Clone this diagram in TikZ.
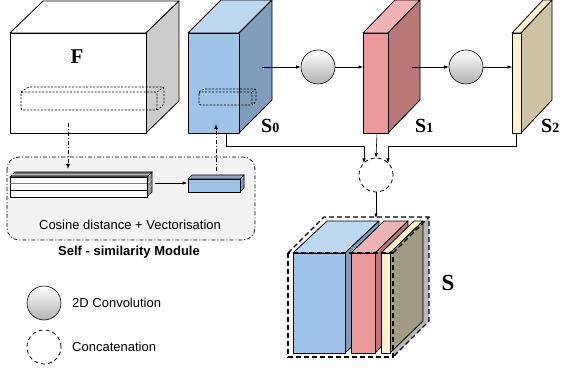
\documentclass[tikz,border=0pt]{standalone}
\usepackage{fontspec}
\setmainfont{Liberation Serif}
\setsansfont{Liberation Sans}
\usetikzlibrary{arrows.meta,shapes.geometric}
\definecolor{fside}{HTML}{CCCCCC}
\definecolor{bfront}{HTML}{9DC3E6}
\definecolor{btop}{HTML}{BDD7EE}
\definecolor{bside}{HTML}{7F9DBB}
\definecolor{pfront}{HTML}{E99999}
\definecolor{ptop}{HTML}{EEB4B4}
\definecolor{pside}{HTML}{B87878}
\definecolor{cfront}{HTML}{FFF2CC}
\definecolor{ctop}{HTML}{FFF2CC}
\definecolor{cside}{HTML}{CCC3A3}
\definecolor{cside2}{HTML}{A19B84}
\definecolor{modfill}{HTML}{F2F2F2}
\newcommand\cub[8]{%
  \draw[cubeline,fill=#7] #1 -- ++(#2,0) -- ++(#4,#5) -- ++(-#2,0) -- cycle;
  \draw[cubeline,fill=#8] #1 ++(#2,0) -- ++(#4,#5) -- ++(0,#3) -- ++(-#4,-#5) -- cycle;
  \draw[cubeline,fill=#6] #1 rectangle ++(#2,#3);}
\begin{document}
\begin{tikzpicture}[x=1pt,y=-1pt,
  cubeline/.style={line width=0.8pt,line join=round},
  conn/.style={line width=0.6pt,-{Latex[length=4.5pt,width=3.5pt]}},
  dconn/.style={line width=0.9pt,dash pattern=on 4pt off 2pt on 1pt off 2pt,-{Latex[length=5pt,width=4pt]}},
  convc/.style={circle,draw,line width=0.6pt,minimum size=34pt,inner sep=0pt,top color=white,bottom color=black!30},
  catc/.style={circle,draw,line width=0.8pt,dash pattern=on 4pt off 3pt,minimum size=34pt,inner sep=0pt},
  rod/.style={line width=0.7pt,dash pattern=on 2pt off 1.5pt,rounded corners=2pt},
  lbl/.style={font=\fontsize{20}{20}\selectfont\bfseries,inner sep=0pt},
  txt/.style={font=\sffamily\fontsize{13}{15}\selectfont,inner sep=0pt}]
\useasboundingbox (0,0) rectangle (561,371);

% ---------- Self-similarity module ----------
\draw[fill=modfill,line width=0.7pt,dash pattern=on 4pt off 2pt on 1pt off 2pt,rounded corners=12pt] (7,157) rectangle (255,240);
\node[txt] (cosine) at (130,225) {Cosine distance + Vectorisation};
\node[txt,font=\sffamily\bfseries\fontsize{13}{15}\selectfont] (ssm) at (129,252) {Self - similarity Module};

% stack
\draw[line width=0.6pt,fill=black!55] (10,177) -- (147,177) -- (152,172) -- (15,172) -- cycle;
\draw[line width=1pt,black!30] (12,175) -- (149,175);
\draw[line width=0.6pt,fill=black!45] (147,177) -- (152,172) -- (152,192) -- (147,197) -- cycle;
\draw[line width=0.4pt,black!20] (147,184) -- (152,179) (147,190) -- (152,185) (149.5,175) -- (149.5,195);
\draw[line width=0.6pt,fill=white] (10,177) rectangle (147,197);
\draw[line width=1.4pt,black!50] (10,183.5) -- (147,183.5);
\draw[line width=0.6pt] (10,190) -- (147,190);
\coordinate (stackE) at (155,183);
% small blue block
\draw[line width=0.6pt,fill=bside!90] (188,179) -- (240,179) -- (244,175) -- (192,175) -- cycle;
\draw[line width=0.6pt,fill=bside] (240,179) -- (244,175) -- (244,188) -- (240,192) -- cycle;
\draw[line width=0.6pt,fill=bfront] (188,179) rectangle (240,192);
\coordinate (vecW) at (187,183);
\coordinate (vecN) at (216,171);

% ---------- F cube ----------
\cub{(10,33)}{136}{100}{33}{-32}{white}{white}{fside}
\node[lbl,font=\fontsize{21}{21}\selectfont\bfseries] (F) at (77,57) {F};
\draw[rod] (21,92) rectangle (157,110);
\draw[rod] (21,92) -- (28,87) -- (164,87) -- (164,105) -- (157,110);
\draw[rod] (157,92) -- (164,87);
\coordinate (Fout) at (68,123);
\coordinate (stackN) at (68,169);

% ---------- S0 ----------
\cub{(188,33)}{51}{100}{33}{-33}{bfront}{btop}{bside}
\draw[rod] (199,92) rectangle (252,105);
\draw[rod] (199,92) -- (203,89) -- (256,89) -- (256,102) -- (252,105);
\draw[rod] (252,92) -- (256,89);
\node[lbl,anchor=base west] (S0) at (261,133) {S\fontsize{14}{14}\selectfont 0};
\coordinate (S0in) at (216,124);
\coordinate (S0out) at (262,67);
\coordinate (S0b) at (226,133);

% ---------- S1 ----------
\cub{(363,33)}{25}{100}{32}{-33}{pfront}{ptop}{pside}
\node[lbl,anchor=base west] (S1) at (415,133) {S\fontsize{14}{14}\selectfont 1};
\coordinate (S1in) at (363,67);
\coordinate (S1out) at (412,67);
\coordinate (S1b) at (377,133);

% ---------- S2 ----------
\cub{(512,33)}{9}{100}{31}{-33}{cfront}{ctop}{cside}
\node[lbl,anchor=base west] (S2) at (541,133) {S\fontsize{14}{14}\selectfont 2};
\coordinate (S2in) at (512,67);
\coordinate (S2b) at (516,133);

% ---------- conv circles ----------
\node[convc] (conv1) at (318,67) {};
\node[convc] (conv2) at (466,67) {};
\draw[conn] (S0out) -- (conv1);
\draw[conn] (conv1) -- (S1in);
\draw[conn] (S1out) -- (conv2);
\draw[conn] (conv2) -- (S2in);

% ---------- concatenation ----------
\node[catc] (cat) at (376,175) {};
\coordinate (catL) at (364,163);
\coordinate (catR) at (388,163);
\draw[conn] (S0b) -- (226,146) -- (364,146) -- (catL);
\draw[conn] (S1b) -- (cat.north);
\draw[conn] (S2b) -- (516,146) -- (388,146) -- (catR);

% ---------- S block ----------
\fill[black!28] (393,253) -- (429,217) -- (429,321) -- (393,357) -- cycle;
\cub{(293,253)}{52}{100}{34}{-32}{bfront}{btop}{bside}
\cub{(351,253)}{24}{100}{33}{-32}{pfront}{ptop}{pside}
\cub{(381,253)}{9}{100}{33}{-32}{cfront}{ctop}{cside2}
\draw[line width=1.2pt,dash pattern=on 5pt off 3pt] (288,253) rectangle (393,357);
\draw[line width=1.2pt,dash pattern=on 5pt off 3pt] (288,253) -- (324,217) -- (429,217) -- (429,321) -- (393,357);
\draw[line width=1.2pt,dash pattern=on 5pt off 3pt] (393,253) -- (429,217);
\coordinate (Stop) at (376,218);
\node[lbl,font=\fontsize{23}{23}\selectfont\bfseries] (S) at (448,283) {S};
\draw[conn] (cat) -- (Stop);

% ---------- module connectors ----------
\draw[dconn] (Fout) -- (stackN);
\draw[conn] (stackE) -- (vecW);
\draw[dconn] (vecN) -- (S0in);

% ---------- legend ----------
\node[convc] (lconv) at (44,303) {};
\node[txt,anchor=west] (lconvt) at (72,303) {2D Convolution};
\node[catc] (lcat) at (44,347) {};
\node[txt,anchor=west] (lcatt) at (72,347) {Concatenation};
\end{tikzpicture}
\end{document}
